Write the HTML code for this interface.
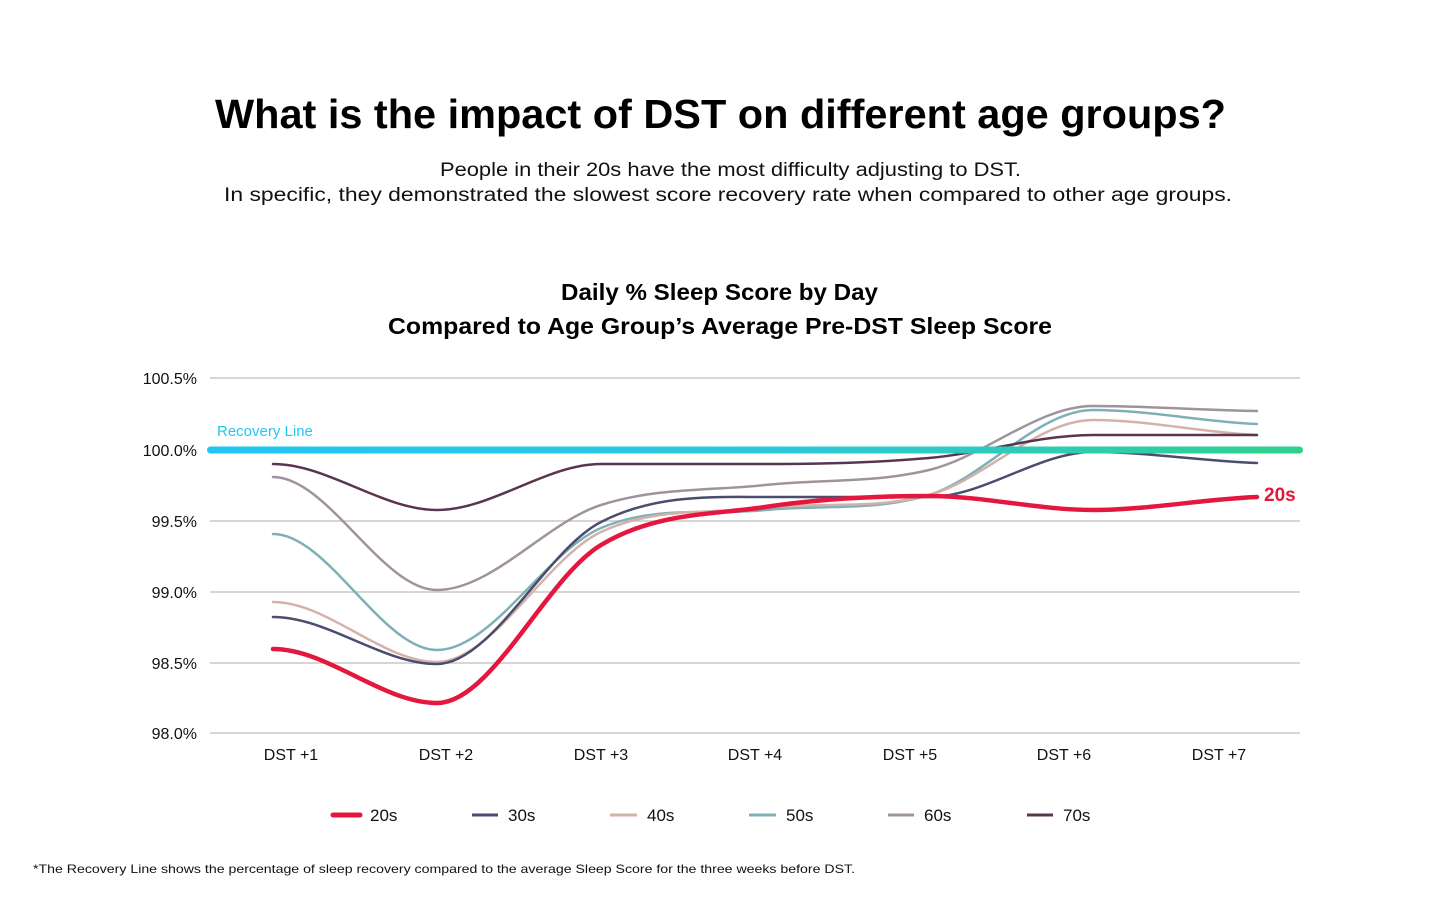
<!DOCTYPE html>
<html><head><meta charset="utf-8"><style>
body{margin:0;background:#fff;width:1441px;height:901px;overflow:hidden;font-family:"Liberation Sans",sans-serif;}
</style></head><body>
<svg width="1441" height="901" xmlns="http://www.w3.org/2000/svg" font-family="Liberation Sans, sans-serif">
<defs><linearGradient id="rg" gradientUnits="userSpaceOnUse" x1="210" y1="0" x2="1300" y2="0"><stop offset="0" stop-color="#22c6f5"/><stop offset="0.55" stop-color="#2cc8d8"/><stop offset="1" stop-color="#2fd08e"/></linearGradient></defs>
<text x="215" y="128" textLength="1011" lengthAdjust="spacingAndGlyphs" font-size="41" font-weight="bold" fill="#000">What is the impact of DST on different age groups?</text>
<text x="440" y="176" textLength="581" lengthAdjust="spacingAndGlyphs" font-size="19" fill="#111">People in their 20s have the most difficulty adjusting to DST.</text>
<text x="224" y="201" textLength="1008" lengthAdjust="spacingAndGlyphs" font-size="19" fill="#111">In specific, they demonstrated the slowest score recovery rate when compared to other age groups.</text>
<text x="561" y="300" textLength="317" lengthAdjust="spacingAndGlyphs" font-size="23" font-weight="bold" fill="#000">Daily % Sleep Score by Day</text>
<text x="388" y="334" textLength="664" lengthAdjust="spacingAndGlyphs" font-size="23" font-weight="bold" fill="#000">Compared to Age Group’s Average Pre-DST Sleep Score</text>
<g stroke="#c8c8c8" stroke-width="1.5">
<line x1="210" x2="1300" y1="378" y2="378"/><line x1="210" x2="1300" y1="521" y2="521"/>
<line x1="210" x2="1300" y1="592" y2="592"/><line x1="210" x2="1300" y1="663" y2="663"/>
<line x1="210" x2="1300" y1="733" y2="733"/></g>
<g font-size="16" fill="#111" text-anchor="end">
<text x="197" y="384">100.5%</text><text x="197" y="456">100.0%</text><text x="197" y="527">99.5%</text>
<text x="197" y="598">99.0%</text><text x="197" y="669">98.5%</text><text x="197" y="739">98.0%</text></g>
<g font-size="16" fill="#111" text-anchor="middle">
<text x="291" y="760">DST +1</text><text x="446" y="760">DST +2</text><text x="601" y="760">DST +3</text>
<text x="755" y="760">DST +4</text><text x="910" y="760">DST +5</text><text x="1064" y="760">DST +6</text><text x="1219" y="760">DST +7</text></g>
<g id="curves" fill="none" stroke-linecap="round"></g>
<rect x="207" y="446.5" width="1096" height="7" rx="3.5" fill="url(#rg)"/>
<text x="217" y="436" font-size="15" fill="#22c6f5">Recovery Line</text>
<text x="1264" y="501" font-size="19" font-weight="bold" fill="#e4173e">20s</text>
<g font-size="17" fill="#111">
<line x1="333" x2="360" y1="815" y2="815" stroke="#e4173e" stroke-width="5" stroke-linecap="round"/><text x="370" y="821">20s</text>
<line x1="472" x2="498" y1="815" y2="815" stroke="#4a4d6e" stroke-width="3"/><text x="508" y="821">30s</text>
<line x1="610" x2="637" y1="815" y2="815" stroke="#d4b2a8" stroke-width="3"/><text x="647" y="821">40s</text>
<line x1="749" x2="776" y1="815" y2="815" stroke="#7fb0b8" stroke-width="3"/><text x="786" y="821">50s</text>
<line x1="888" x2="914" y1="815" y2="815" stroke="#a0939e" stroke-width="3"/><text x="924" y="821">60s</text>
<line x1="1027" x2="1053" y1="815" y2="815" stroke="#5a3550" stroke-width="3"/><text x="1063" y="821">70s</text>
</g>
<text x="33" y="873" textLength="822" lengthAdjust="spacingAndGlyphs" font-size="12" fill="#111">*The Recovery Line shows the percentage of sleep recovery compared to the average Sleep Score for the three weeks before DST.</text>
</svg>
<script>
var xs=[273,437,601,765,929,1093,1257];
var S=[
["#a0939e",[477,590,505,485,470,406,411],2.5],
["#7fb0b8",[534,650,528,510,495,410,424],2.5],
["#d4b2a8",[602,662,532,508,495,420,435],2.5],
["#4a4d6e",[617,664,522,497,497,452,463],2.5],
["#5a3550",[464,510,464,464,458,435,435],2.5],
["#e4173e",[649,703,545,507,496,510,497],4.5]];
var g=document.getElementById('curves');
S.forEach(function(s){
 var y=s[1],d="M"+xs[0]+","+y[0],n=xs.length,m=[];
 for(var i=0;i<n;i++){
  if(i==0)m.push(0);else if(i==n-1)m.push((y[i]-y[i-1])/164*0.5);
  else{var a=(y[i]-y[i-1]),b=(y[i+1]-y[i]);m.push(a*b<=0?0:(a+b)/2/164);}
 }
 for(var i=0;i<n-1;i++){var h=164/3;
  d+=" C"+(xs[i]+h)+","+(y[i]+m[i]*h)+" "+(xs[i+1]-h)+","+(y[i+1]-m[i+1]*h)+" "+xs[i+1]+","+y[i+1];}
 var p=document.createElementNS("http://www.w3.org/2000/svg","path");
 p.setAttribute("d",d);p.setAttribute("stroke",s[0]);p.setAttribute("stroke-width",s[2]);g.appendChild(p);
});
</script>
</body></html>
